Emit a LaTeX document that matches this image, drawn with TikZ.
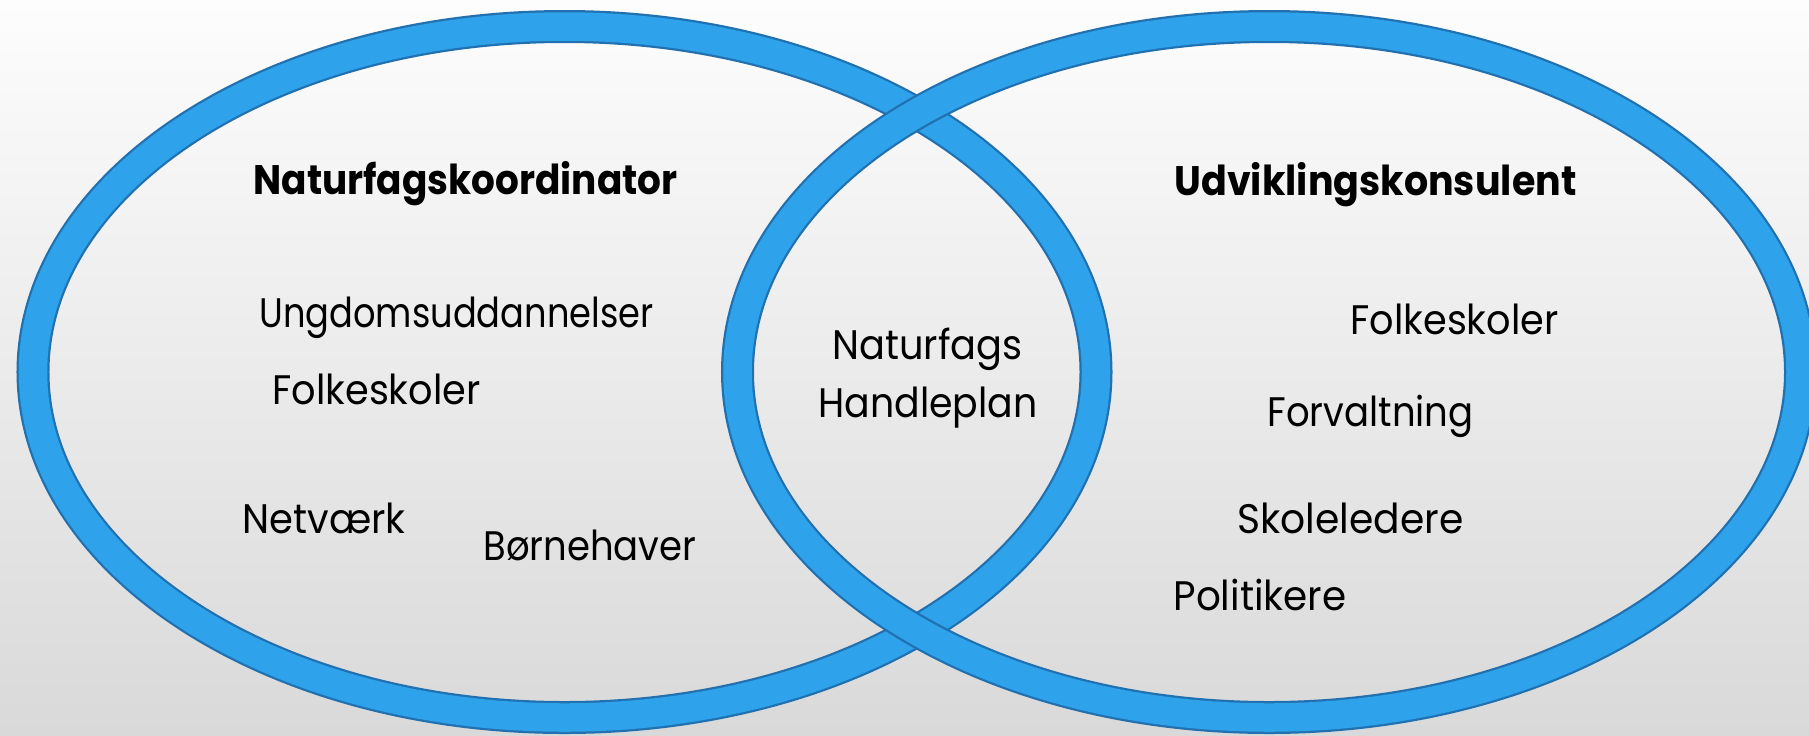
\documentclass[tikz,border=0pt]{standalone}
\usepackage{fontspec}
\usepackage{graphicx}
\setmainfont{Poppins}
\definecolor{ringblue}{HTML}{2EA2EB}
\definecolor{ringedge}{HTML}{2171B0}
\definecolor{bgtop}{HTML}{FDFDFD}
\definecolor{bgbot}{HTML}{D9D9D9}
\newsavebox\fitbox
\newlength\fitlen
\newcommand{\fitw}[2]{\sbox\fitbox{#2}\setlength\fitlen{\wd\fitbox}\pgfmathsetmacro\fitfac{#1*0.4/\fitlen}\scalebox{\fitfac}[1]{\usebox\fitbox}}
\tikzset{
  lbl/.style={anchor=base west, inner sep=0pt, text=black, font=\fontsize{16.5pt}{20pt}\selectfont},
  hdr/.style={lbl, font=\fontsize{16.5pt}{20pt}\selectfont\bfseries},
  ringedgeline/.style={draw=ringedge, line width=13.2pt},
  ringfillline/.style={draw=ringblue, line width=11.4pt}
}
\begin{document}
\begin{tikzpicture}[x=0.4pt,y=-0.4pt]
\useasboundingbox (0,0) rectangle (1809,735);
\shade[top color=bgtop, bottom color=bgbot] (0,0) rectangle (1809,735);
% left ring
\coordinate (cl) at (564.5,372);
\coordinate (cr) at (1269,372);
\draw[ringedgeline] (cl) ellipse [x radius=212.6pt, y radius=138.2pt];
\draw[ringfillline] (cl) ellipse [x radius=212.6pt, y radius=138.2pt];
% right ring (on top)
\draw[ringedgeline] (cr) ellipse [x radius=212.6pt, y radius=138.2pt];
\draw[ringfillline] (cr) ellipse [x radius=212.6pt, y radius=138.2pt];
% texts
\node[hdr] (h1) at (253,194) {\fitw{424}{Naturfagskoordinator}};
\node[lbl] (l1) at (259,327) {\fitw{394}{Ungdomsuddannelser}};
\node[lbl] (l2) at (272,404) {\fitw{208}{Folkeskoler}};
\node[lbl] (l3) at (242,533) {\fitw{163}{Netværk}};
\node[lbl] (l4) at (483,560) {\fitw{213}{Børnehaver}};
\node[lbl] (m1) at (832,359) {\fitw{190}{Naturfags}};
\node[lbl] (m2) at (818,417) {\fitw{219}{Handleplan}};
\node[hdr] (h2) at (1174,195) {\fitw{402}{Udviklingskonsulent}};
\node[lbl] (r1) at (1350,334) {\fitw{208}{Folkeskoler}};
\node[lbl] (r2) at (1267,426) {\fitw{206}{Forvaltning}};
\node[lbl] (r3) at (1237,533) {\fitw{226}{Skoleledere}};
\node[lbl] (r4) at (1173,610) {\fitw{173}{Politikere}};
\end{tikzpicture}
\end{document}
